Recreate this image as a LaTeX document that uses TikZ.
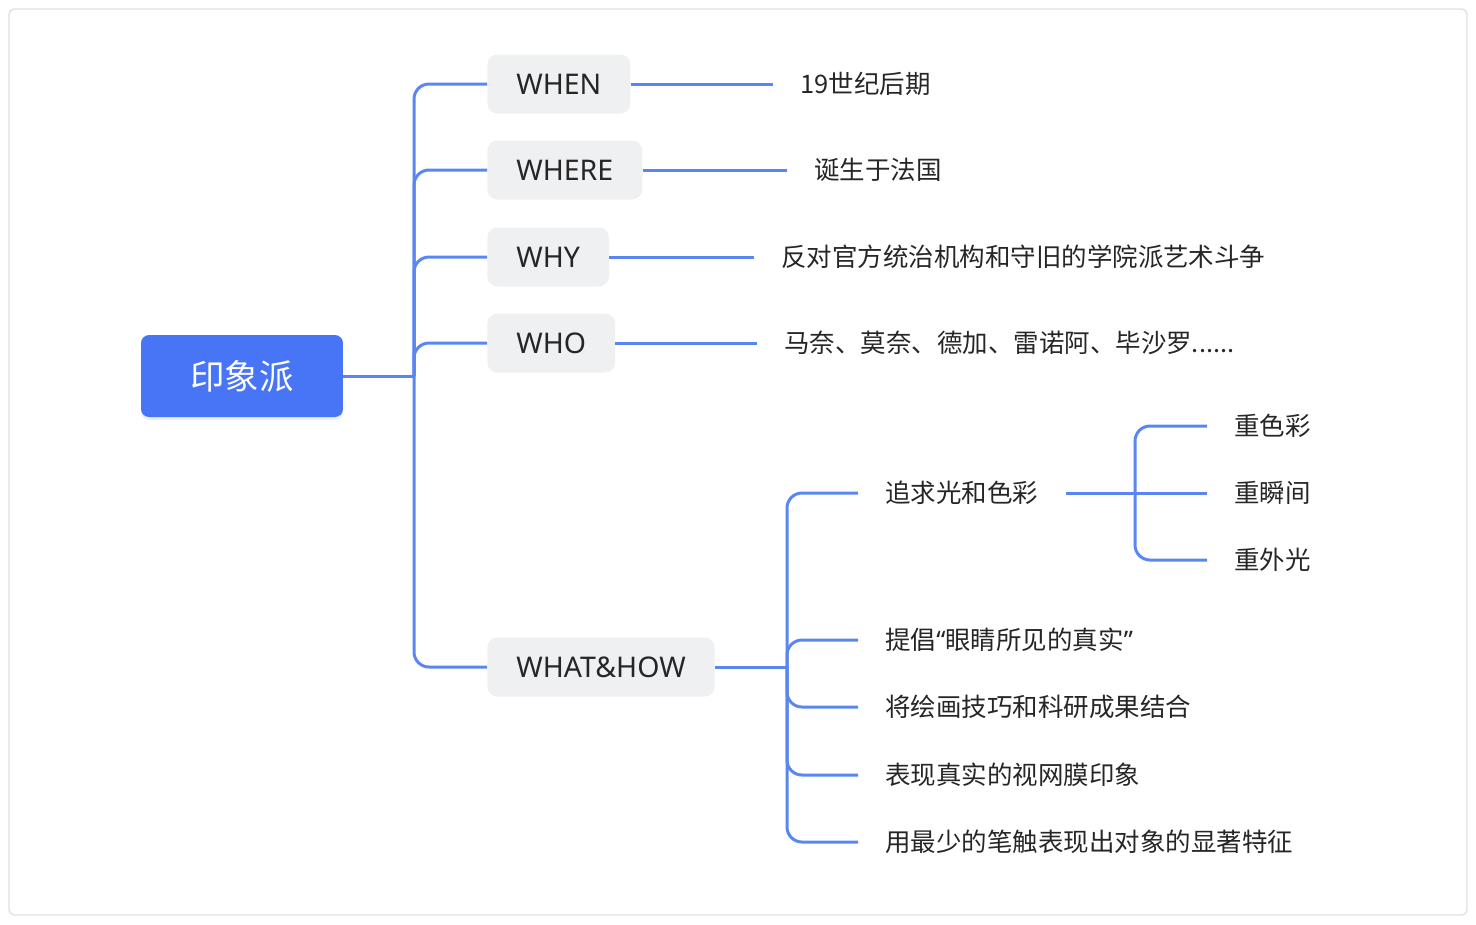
\documentclass[tikz,border=0pt]{standalone}
\usepackage{fontspec}
\setmainfont{Noto Sans CJK SC}
\newfontfamily\latinfont{Noto Sans}
\usepackage{xcolor}
\definecolor{rootblue}{HTML}{4775F5}
\definecolor{linkblue}{HTML}{5A86F2}
\definecolor{boxgray}{HTML}{EFF0F2}
\definecolor{inkgray}{HTML}{262626}
\definecolor{framegray}{HTML}{E0E0E2}
\usetikzlibrary{shadows}

\tikzset{
  rootbox/.style={fill=rootblue, text=white, rounded corners=0.16cm,
    minimum width=4.04cm, minimum height=1.64cm,
    font=\fontsize{19.6}{20}\selectfont,
    drop shadow={shadow xshift=0pt, shadow yshift=-1.5pt, fill=rootblue!40, opacity=0.35}},
  topic/.style={fill=boxgray, text=inkgray, rounded corners=0.2cm,
    minimum height=1.18cm, inner xsep=0.58cm, anchor=west,
    font=\latinfont\fontsize{16.2}{17}\selectfont},
  leaf/.style={text=inkgray, inner xsep=0.54cm, inner ysep=0pt, anchor=west,
    font=\fontsize{14.5}{15}\selectfont},
  link/.style={linkblue, line width=1.7pt, rounded corners=0.3cm},
}

\begin{document}
\begin{tikzpicture}[x=0.02cm, y=-0.02cm]
  \useasboundingbox (0,0) rectangle (1476,924);
  \draw[framegray, line width=0.8pt, rounded corners=0.12cm] (9,9) rectangle (1467,915);

  % root and topics
  \node[rootbox] (root) at (242,376) {印象派};
  \node[topic] (when) at (487,84) {WHEN};
  \node[topic] (where) at (487,170) {WHERE};
  \node[topic] (why) at (487,257) {WHY};
  \node[topic] (who) at (487,343) {WHO};
  \node[topic] (whathow) at (487,667) {WHAT\&HOW};

  % answers
  \node[leaf] (tWhen) at (773,84) {19世纪后期};
  \node[leaf] (tWhere) at (787,170) {诞生于法国};
  \node[leaf] (tWhy) at (754,257) {反对官方统治机构和守旧的学院派艺术斗争};
  \node[leaf] (tWho) at (757,343) {马奈、莫奈、德加、雷诺阿、毕沙罗......};

  \node[leaf] (light) at (858,493) {追求光和色彩};
  \node[leaf] (seen) at (858,640) {提倡{\latinfont “}眼睛所见的真实{\latinfont ”}};
  \node[leaf] (science) at (858,707) {将绘画技巧和科研成果结合};
  \node[leaf] (retina) at (858,775) {表现真实的视网膜印象};
  \node[leaf] (stroke) at (858,842) {用最少的笔触表现出对象的显著特征};

  \node[leaf] (colour) at (1207,426) {重色彩};
  \node[leaf] (moment) at (1207,493) {重瞬间};
  \node[leaf] (outdoor) at (1207,560) {重外光};

  \coordinate (t1) at (414,376);
  \coordinate (t2) at (787,667);
  \coordinate (t3) at (1135,493);

  % connectors
  \draw[link] (root.east) -- (t1);
  \foreach \n in {when,where,why,who,whathow}
    \draw[link] (t1) |- (\n.west);

  \draw[link] (when.east) -- (tWhen.west);
  \draw[link] (where.east) -- (tWhere.west);
  \draw[link] (why.east) -- (tWhy.west);
  \draw[link] (who.east) -- (tWho.west);

  \draw[link] (whathow.east) -- (t2);
  \foreach \n in {light,seen,science,retina,stroke}
    \draw[link] (t2) |- (\n.west);

  \draw[link] (light.east) -- (t3);
  \draw[link] (t3) |- (colour.west);
  \draw[link] (t3) -- (moment.west);
  \draw[link] (t3) |- (outdoor.west);
\end{tikzpicture}
\end{document}
